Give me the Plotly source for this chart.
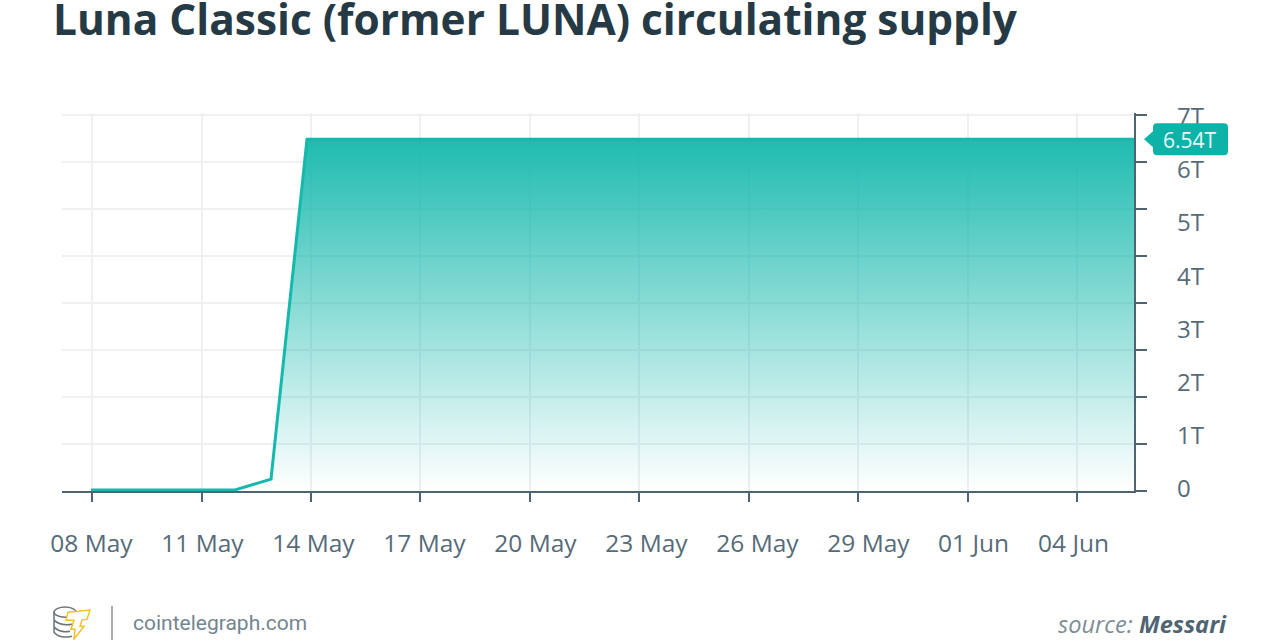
import plotly.graph_objects as go

# daily samples, values in trillions
dates = ["2022-05-%02d" % d for d in range(8, 32)] + ["2022-06-%02d" % d for d in range(1, 7)]
supply = [0.02, 0.02, 0.02, 0.02, 0.02, 0.22] + [6.54] * 24

tick_dates = ["2022-05-08", "2022-05-11", "2022-05-14", "2022-05-17", "2022-05-20", "2022-05-23",
              "2022-05-26", "2022-05-29", "2022-06-01", "2022-06-04"]
tick_labels = ["08 May", "11 May", "14 May", "17 May", "20 May", "23 May",
               "26 May", "29 May", "01 Jun", "04 Jun"]
y_label_vals = [0, 1, 2, 3, 4, 5, 6, 7]
y_label_text = ["0", "1T", "2T", "3T", "4T", "5T", "6T", "7T"]
y_grid_vals = [0, 0.875, 1.75, 2.625, 3.5, 4.375, 5.25, 6.125, 7]
last_label = "6.54T"
last_value = 6.54

# the date labels don't sit exactly under their ticks in the original
label_centers = [91.5, 202.5, 313.5, 424.5, 535.5, 646.5, 757.5, 868.5, 973.5, 1073.5]

W, H = 1280, 640
L, R, T, B = 62, 1134, 113.4, 491
INK = "#566b78"
AXIS = "#4f6472"
TEAL = "#14b8ac"
GRID = "#eef0f2"


def px(x):
    return (x - L) / (R - L)


def py(y):
    return (B - y) / (B - T)


fig = go.Figure()

# gets the main x/y subplot drawn, with its grid
fig.add_trace(go.Scatter(x=tick_dates[:2], y=[None, None], mode="lines",
                         hoverinfo="skip", showlegend=False))
# area, on its own hidden x axis because samples are not quite in step with the ticks
fig.add_trace(go.Scatter(
    x=dates, y=supply, xaxis="x2", yaxis="y", mode="lines",
    line=dict(color=TEAL, width=3), fill="tozeroy",
    fillgradient=dict(type="vertical", start=0, stop=last_value,
                      colorscale=[[0, "rgba(20,184,172,0)"], [1, "rgba(20,184,172,0.95)"]]),
    hoverinfo="skip", showlegend=False,
))
# carries the y labels
fig.add_trace(go.Scatter(
    x=tick_dates[:2], y=[None, None], xaxis="x", yaxis="y2", mode="lines",
    hoverinfo="skip", showlegend=False,
))
# carries the date labels
fig.add_trace(go.Scatter(
    x=label_centers[:2], y=[None, None], xaxis="x3", yaxis="y", mode="lines",
    hoverinfo="skip", showlegend=False,
))

fig.update_layout(
    width=W, height=H, autosize=False,
    margin=dict(l=L, r=W - R, t=T, b=H - B),
    paper_bgcolor="white", plot_bgcolor="white",
    font=dict(family="Open Sans", color=INK, size=24),
    xaxis=dict(
        type="date", range=["2022-05-07 04:16", "2022-06-05 13:11"],
        tickmode="array", tickvals=tick_dates, showticklabels=False,
        showgrid=True, gridcolor=GRID, gridwidth=2, zeroline=False,
        showline=True, linecolor=AXIS, linewidth=2,
        ticks="outside", ticklen=9, tickwidth=2, tickcolor=AXIS,
    ),
    xaxis2=dict(type="date", range=["2022-05-07 04:40", "2022-06-05 23:20"],
                overlaying="x", visible=False),
    xaxis3=dict(
        range=[L, R], overlaying="x", side="bottom", anchor="y",
        tickmode="array", tickvals=label_centers, ticktext=tick_labels,
        showgrid=False, zeroline=False, showline=False, ticks="",
        ticklabelstandoff=35, tickfont=dict(size=24.5, color=INK),
    ),
    yaxis=dict(
        range=[0, 7.03], side="right", anchor="x",
        tickmode="array", tickvals=y_grid_vals, showticklabels=False,
        showgrid=True, gridcolor=GRID, gridwidth=2, zeroline=False,
        showline=True, linecolor=AXIS, linewidth=2,
        ticks="outside", ticklen=11, tickwidth=2, tickcolor=AXIS,
    ),
    # labels run on a slightly different spacing from the ticks
    yaxis2=dict(
        range=[-0.0376, 7.068], side="right", overlaying="y", anchor="x",
        tickmode="array", tickvals=y_label_vals, ticktext=y_label_text,
        showgrid=False, zeroline=False, showline=False, ticks="",
        ticklabelstandoff=42, tickfont=dict(size=24, color=INK),
    ),
)

shapes = [
    # value tag
    dict(type="path", xref="paper", yref="y", xsizemode="pixel", ysizemode="pixel",
         xanchor=1, yanchor=last_value,
         path="M 10 0 L 19 -8 L 19 -12 Q 19 -16 23 -16 L 90 -16 Q 94 -16 94 -12 "
              "L 94 12 Q 94 16 90 16 L 23 16 Q 19 16 19 12 L 19 8 Z",
         fillcolor="#0db3a7", line=dict(width=0), layer="above"),
    # footer divider
    dict(type="line", xref="paper", yref="paper", x0=px(112), x1=px(112), y0=py(606), y1=py(640),
         line=dict(color="#8b9299", width=1.5)),
    # logo coins
    dict(type="circle", xref="paper", yref="paper", x0=px(54), x1=px(76), y0=py(607), y1=py(617),
         fillcolor="white", line=dict(color="#6d7378", width=1.5)),
    dict(type="path", xref="paper", yref="paper",
         path=f"M {px(54)} {py(612)} L {px(54)} {py(632)} Q {px(60)} {py(639)} {px(72)} {py(636)}",
         line=dict(color="#6d7378", width=1.5)),
    dict(type="path", xref="paper", yref="paper",
         path=f"M {px(54)} {py(620)} Q {px(60)} {py(626)} {px(72)} {py(624)} "
              f"M {px(54)} {py(627)} Q {px(60)} {py(633)} {px(70)} {py(631)}",
         line=dict(color="#6d7378", width=1.5)),
    # logo bolt
    dict(type="path", xref="paper", yref="paper",
         path=f"M {px(68)} {py(612)} L {px(90)} {py(610)} L {px(87)} {py(619)} L {px(82)} {py(620)} "
              f"L {px(80)} {py(626)} L {px(84)} {py(626)} L {px(74)} {py(639)} L {px(75)} {py(629)} "
              f"L {px(71)} {py(629)} L {px(74)} {py(620)} L {px(66)} {py(620)} Z",
         fillcolor="white", line=dict(color="#f2c029", width=1.5)),
]
fig.update_layout(shapes=shapes)

annotations = [
    dict(text="<b>Luna Classic (former LUNA) circulating supply</b>", x=px(51), y=py(19),
         xanchor="left", yanchor="middle", font=dict(family="Open Sans", size=42.4, color="#263a45")),
    dict(text=last_label, x=px(1190), y=py(140), xanchor="center", yanchor="middle",
         font=dict(family="Open Sans", size=21, color="#e8f8f6")),
    dict(text="cointelegraph.com", x=px(131), y=py(623), xanchor="left", yanchor="middle",
         font=dict(family="Roboto", size=21, color="#74858f")),
    dict(text="<i><span style='color:#7d8d97'>source:</span> <b>Messari</b></i>", x=px(1229), y=py(624),
         xanchor="right", yanchor="middle", font=dict(family="Open Sans", size=23.6, color=AXIS)),
]
for a in annotations:
    a.update(xref="paper", yref="paper", showarrow=False)
fig.update_layout(annotations=annotations)

# no page margin round the fixed-size figure
fig.write_html("out.html", config={"displayModeBar": False},
               post_script="document.body.style.margin='0';")
